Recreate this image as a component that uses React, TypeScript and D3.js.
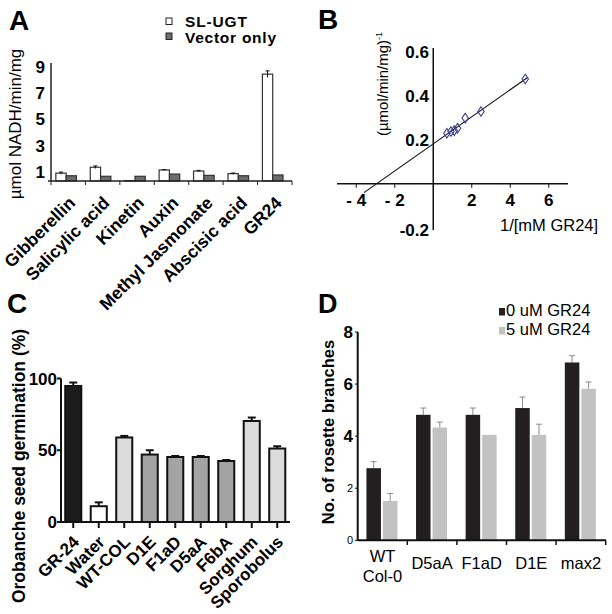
import * as d3 from 'd3';

const FONT = 'Liberation Sans, Arial, Helvetica, sans-serif';

// Panel A: enzyme activity on hormones
const hormones = ['Gibberellin', 'Salicylic acid', 'Kinetin', 'Auxin', 'Methyl Jasmonate', 'Abscisic acid', 'GR24'];
const slUgt = [0.9, 1.35, 0.33, 1.14, 1.06, 0.86, 8.45];
const slUgtErr = [0.08, 0.1, 0, 0.03, 0.05, 0.05, 0.25];
const vectorOnly = [0.7, 0.66, 0.66, 0.83, 0.73, 0.7, 0.76];
const aTicks = [1, 3, 5, 7, 9];

// Panel B: Lineweaver-Burk points
const invGR24 = [0.71, 0.92, 1.09, 1.26, 1.66, 2.48, 4.78];
const invRate = [0.23, 0.238, 0.242, 0.253, 0.299, 0.329, 0.477];
const bXTicks = [-4, -2, 2, 4, 6];
const bYTicks = [0.6, 0.4, 0.2, -0.2];

// Panel C: seed germination
const treatments = ['GR-24', 'Water', 'WT-COL', 'D1E', 'F1aD', 'D5aA', 'F6bA', 'Sorghum', 'Sporobolus'];
const germination = [94.8, 11, 58.9, 47, 45.3, 45.3, 42.5, 70.4, 51.2];
const germinationErr = [2.4, 2.7, 1.1, 3, 0.7, 0.7, 0.7, 2.4, 1.6];
const treatmentFill = ['#1b1b1b', '#ffffff', '#dcdcdc', '#a3a3a3', '#a3a3a3', '#a3a3a3', '#a3a3a3', '#dcdcdc', '#dcdcdc'];
const cTicks = [0, 50, 100];

// Panel D: rosette branches
const genotypes = [['WT', 'Col-0'], ['D5aA'], ['F1aD'], ['D1E'], ['max2']];
const branches0 = [2.77, 4.82, 4.82, 5.08, 6.83];
const branches0Err = [0.25, 0.26, 0.26, 0.42, 0.26];
const branches5 = [1.51, 4.33, 4.05, 4.05, 5.82];
const branches5Err = [0.29, 0.21, 0, 0.41, 0.26];
const dTicks = [0, 2, 4, 6, 8];

const PanelA = () => {
  const x = d3.scaleBand().domain(hormones).range([51, 292]);
  const inner = d3.scaleBand().domain(['sl', 'vec']).range([0, x.bandwidth()]).paddingOuter(0.67).align(0.35);
  const y = d3.scaleLinear().domain([0.3, 9.3]).range([181, 63]);
  const bw = inner.bandwidth();
  return (
    <g fontFamily={FONT}>
      <text x={9} y={30} fontSize={28} fontWeight="bold">A</text>
      <rect x={166} y={18} width={6} height={6.5} fill="#fff" stroke="#222" strokeWidth={1} />
      <text x={185} y={26.5} fontSize={15.5} fontWeight="bold" textLength={62}>SL-UGT</text>
      <rect x={166} y={33} width={6} height={6.5} fill="#6d6d6d" stroke="#222" strokeWidth={1} />
      <text x={185} y={43} fontSize={15.5} fontWeight="bold" textLength={91}>Vector only</text>
      <text transform="translate(21,124) rotate(-90)" textAnchor="middle" fontSize={17}>µmol NADH/min/mg</text>
      {aTicks.map((t) => (
        <text key={t} x={45} y={y(t)} dy="0.36em" textAnchor="end" fontSize={17} fontWeight="bold">{t}</text>
      ))}
      {hormones.map((h, i) => {
        const gx = x(h) as number;
        const slX = gx + (inner('sl') as number);
        const vX = gx + (inner('vec') as number);
        return (
          <g key={h}>
            <rect x={slX} y={y(slUgt[i])} width={bw} height={y(0.3) - y(slUgt[i])} fill="#fff" stroke="#333" strokeWidth={1.2} />
            <rect x={vX} y={y(vectorOnly[i])} width={bw} height={y(0.3) - y(vectorOnly[i])} fill="#6d6d6d" stroke="#333" strokeWidth={1.2} />
            {slUgtErr[i] > 0 && (
              <g stroke="#111" strokeWidth={1}>
                <line x1={slX + bw / 2} x2={slX + bw / 2} y1={y(slUgt[i] - slUgtErr[i])} y2={y(slUgt[i] + slUgtErr[i])} />
                <line x1={slX + bw / 2 - 2} x2={slX + bw / 2 + 2} y1={y(slUgt[i] + slUgtErr[i])} y2={y(slUgt[i] + slUgtErr[i])} />
              </g>
            )}
            <text transform={`translate(${gx + x.bandwidth() / 2 + 8},204) rotate(-45)`} textAnchor="end" fontSize={17.5} fontWeight="bold">{h}</text>
          </g>
        );
      })}
      <line x1={51} x2={51} y1={63} y2={181} stroke="#222" strokeWidth={1.5} />
      <line x1={48} x2={292} y1={181} y2={181} stroke="#222" strokeWidth={1.5} />
      {[...hormones.map((h) => x(h) as number), 292].map((t, i) => (
        <line key={i} x1={t} x2={t} y1={181} y2={185} stroke="#222" strokeWidth={1} />
      ))}
    </g>
  );
};

const PanelB = () => {
  const x = d3.scaleLinear().domain([-5, 7]).range([337, 568]);
  const y = d3.scaleLinear().domain([-0.21, 0.618]).range([230, 48]);
  const mx = d3.mean(invGR24) as number;
  const my = d3.mean(invRate) as number;
  const slope = d3.sum(invGR24, (v, i) => (v - mx) * (invRate[i] - my)) / d3.sum(invGR24, (v) => (v - mx) ** 2);
  const icept = my - slope * mx;
  const fit = d3.line<number>().x((v) => x(v)).y((v) => y(icept + slope * v));
  const diamond = 'M0,-4.8L3.2,0L0,4.8L-3.2,0Z';
  return (
    <g fontFamily={FONT}>
      <text x={318} y={29} fontSize={28} fontWeight="bold">B</text>
      <text transform="translate(388,84) rotate(-90)" textAnchor="middle" fontSize={15}>
        (µmol/min/mg)<tspan fontSize={9} dy={-6}>-1</tspan>
      </text>
      <line x1={x(-5)} x2={x(7)} y1={y(0)} y2={y(0)} stroke="#111" strokeWidth={1.5} />
      <line x1={x(0)} x2={x(0)} y1={y(0.618)} y2={y(-0.21)} stroke="#111" strokeWidth={1.5} />
      {bXTicks.map((t) => (
        <g key={t}>
          <line x1={x(t)} x2={x(t)} y1={y(0)} y2={y(0) + 4} stroke="#111" strokeWidth={1} />
          <text x={x(t)} y={206} textAnchor="middle" fontSize={17} fontWeight="bold">{t < 0 ? `- ${-t}` : t}</text>
        </g>
      ))}
      {bYTicks.map((t) => (
        <text key={t} x={429} y={t < 0 ? 230 : y(t)} dy="0.36em" textAnchor="end" fontSize={17} fontWeight="bold">{t.toFixed(1)}</text>
      ))}
      <path d={fit([-3.6, 4.9]) as string} stroke="#111" strokeWidth={1.2} fill="none" />
      {invGR24.map((v, i) => (
        <path key={i} d={diamond} transform={`translate(${x(v)},${y(invRate[i])})`} fill="none" stroke="#3b3f8c" strokeWidth={1.1} />
      ))}
      <text x={500} y={231} fontSize={16.5}>1/[mM GR24]</text>
    </g>
  );
};

const PanelC = () => {
  const x = d3.scaleBand().domain(treatments).range([60.5, 290]).paddingInner(0.37).paddingOuter(0.185);
  const y = d3.scaleLinear().domain([0, 100]).range([522, 378.5]);
  const bw = x.bandwidth();
  return (
    <g fontFamily={FONT}>
      <text x={7} y={313} fontSize={28} fontWeight="bold">C</text>
      <text transform="translate(25,466) rotate(-90)" textAnchor="middle" fontSize={17.5} fontWeight="bold">Orobanche seed germination (%)</text>
      {cTicks.map((t) => (
        <g key={t}>
          <line x1={57} x2={61} y1={y(t)} y2={y(t)} stroke="#111" strokeWidth={2} />
          <text x={57} y={y(t)} dy="0.36em" textAnchor="end" fontSize={17} fontWeight="bold">{t}</text>
        </g>
      ))}
      {treatments.map((t, i) => {
        const bx = x(t) as number;
        const cx = bx + bw / 2;
        const top = y(germination[i] + germinationErr[i]);
        return (
          <g key={t}>
            <line x1={cx} x2={cx} y1={y(germination[i])} y2={top} stroke="#111" strokeWidth={2} />
            <line x1={cx - 4} x2={cx + 4} y1={top} y2={top} stroke="#111" strokeWidth={2} />
            <rect x={bx} y={y(germination[i])} width={bw} height={y(0) - y(germination[i])} fill={treatmentFill[i]} stroke="#111" strokeWidth={2} />
            <line x1={cx} x2={cx} y1={522} y2={528} stroke="#111" strokeWidth={2} />
            <text transform={`translate(${cx + 7},543) rotate(-45)`} textAnchor="end" fontSize={17} fontWeight="bold">{t}</text>
          </g>
        );
      })}
      <line x1={61} x2={61} y1={y(100)} y2={522} stroke="#111" strokeWidth={2} />
      <line x1={57} x2={290} y1={522} y2={522} stroke="#111" strokeWidth={2} />
    </g>
  );
};

const PanelD = () => {
  const labels = genotypes.map((g) => g.join(' '));
  const x = d3.scaleBand().domain(labels).range([357.7, 605.7]);
  const inner = d3.scaleBand().domain(['0', '5']).range([0, x.bandwidth()]).paddingInner(0.12).paddingOuter(0.563).align(0.47);
  const y = d3.scaleLinear().domain([0, 8]).range([540.3, 332]);
  const bw = inner.bandwidth();
  const series = [
    { key: '0', values: branches0, errs: branches0Err, fill: '#231f20' },
    { key: '5', values: branches5, errs: branches5Err, fill: '#c2c2c2' },
  ];
  return (
    <g fontFamily={FONT}>
      <text x={318} y={313} fontSize={27} fontWeight="bold">D</text>
      <rect x={499} y={308} width={6} height={7.5} fill="#231f20" />
      <text x={506} y={316} fontSize={16.5}>0 uM GR24</text>
      <rect x={499} y={327} width={6} height={7.5} fill="#c2c2c2" />
      <text x={506} y={335} fontSize={16.5}>5 uM GR24</text>
      <text transform="translate(334,432) rotate(-90)" textAnchor="middle" fontSize={16.5} fontWeight="bold">No. of rosette branches</text>
      {dTicks.map((t) => (
        <g key={t}>
          <line x1={355} x2={358} y1={y(t)} y2={y(t)} stroke="#111" strokeWidth={1} />
          <text x={353} y={y(t)} dy="0.36em" textAnchor="end" fontSize={t < 4 ? 11 : 17} fontWeight={t < 4 ? 'normal' : 'bold'}>{t}</text>
        </g>
      ))}
      {labels.map((l, i) => {
        const gx = x(l) as number;
        return (
          <g key={l}>
            {series.map((s) => {
              const bx = gx + (inner(s.key) as number);
              const cx = bx + bw / 2;
              const top = y(s.values[i] + s.errs[i]);
              return (
                <g key={s.key}>
                  {s.errs[i] > 0 && (
                    <g stroke="#8a8a8a" strokeWidth={1}>
                      <line x1={cx} x2={cx} y1={y(s.values[i])} y2={top} />
                      <line x1={cx - 3} x2={cx + 3} y1={top} y2={top} />
                    </g>
                  )}
                  <rect x={bx} y={y(s.values[i])} width={bw} height={y(0) - y(s.values[i])} fill={s.fill} />
                </g>
              );
            })}
            {genotypes[i].map((line, j) => (
              <text key={j} x={gx + x.bandwidth() / 2} y={genotypes[i].length > 1 ? 562 + j * 20 : 569} textAnchor="middle" fontSize={16.5}>{line}</text>
            ))}
          </g>
        );
      })}
      <line x1={357.7} x2={357.7} y1={332} y2={540.3} stroke="#111" strokeWidth={2} />
      <line x1={357.7} x2={606} y1={540.3} y2={540.3} stroke="#111" strokeWidth={2} />
      {labels.map((l) => (x(l) as number) + x.bandwidth()).map((t, i) => (
        <line key={i} x1={t} x2={t} y1={540.3} y2={545} stroke="#111" strokeWidth={1.5} />
      ))}
    </g>
  );
};

export default function App() {
  return (
    <div style={{ position: 'absolute', left: 0, top: 0 }}>
      <svg width={612} height={614} style={{ display: 'block', background: '#fff' }}>
        <PanelA />
        <PanelB />
        <PanelC />
        <PanelD />
      </svg>
    </div>
  );
}
